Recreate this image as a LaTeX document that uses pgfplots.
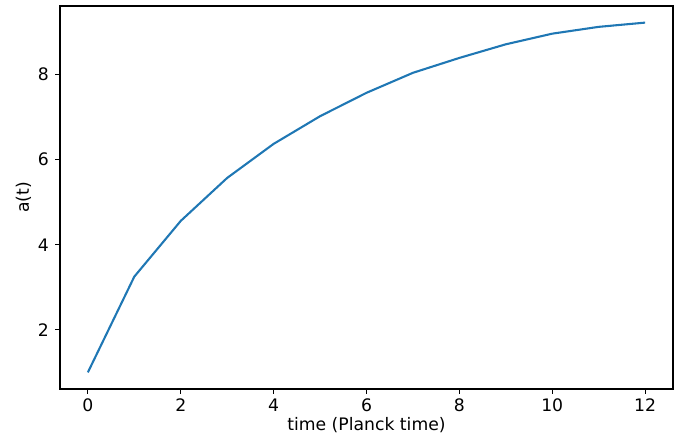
\documentclass[border=0pt]{standalone}
\usepackage{fontspec}
\setmainfont{DejaVu Sans}
\usepackage{pgfplots}
\pgfplotsset{compat=1.18}
\definecolor{mplblue}{HTML}{1F77B4}

\begin{document}
\begin{tikzpicture}
\begin{axis}[
  scale only axis,
  width=441.4pt, height=275.8pt,
  xmin=-0.6, xmax=12.6,
  ymin=0.611, ymax=9.611,
  xtick={0,2,...,12}, ytick={2,4,6,8},
  tick pos=left,
  tick align=outside, major tick length=3.5pt,
  tick style={black, line width=0.8pt},
  axis line style={black, line width=0.8pt},
  every tick label/.append style={font=\fontsize{12.4}{14}\selectfont},
  yticklabel style={xshift=-1pt},
  /pgf/number format/assume math mode=true,
  xlabel={time (Planck time)}, ylabel={a(t)},
  label style={font=\fontsize{12.4}{14}\selectfont},
  xlabel style={yshift=3pt},
  ylabel style={yshift=-2pt},
]
\addplot[mplblue, line width=1.5pt] coordinates {
 (0,1.00)(1,3.25)(2,4.56)(3,5.57)(4,6.37)(5,7.02)(6,7.57)
 (7,8.04)(8,8.39)(9,8.71)(10,8.96)(11,9.12)(12,9.22)};
\end{axis}
\pgfresetboundingbox
\path (current axis.south west) ++(-43.2pt,-31.7pt) coordinate (bbA);
\path (current axis.north east) ++(2.9pt,4.3pt) coordinate (bbB);
\useasboundingbox (bbA) rectangle (bbB);
\end{tikzpicture}
\end{document}
